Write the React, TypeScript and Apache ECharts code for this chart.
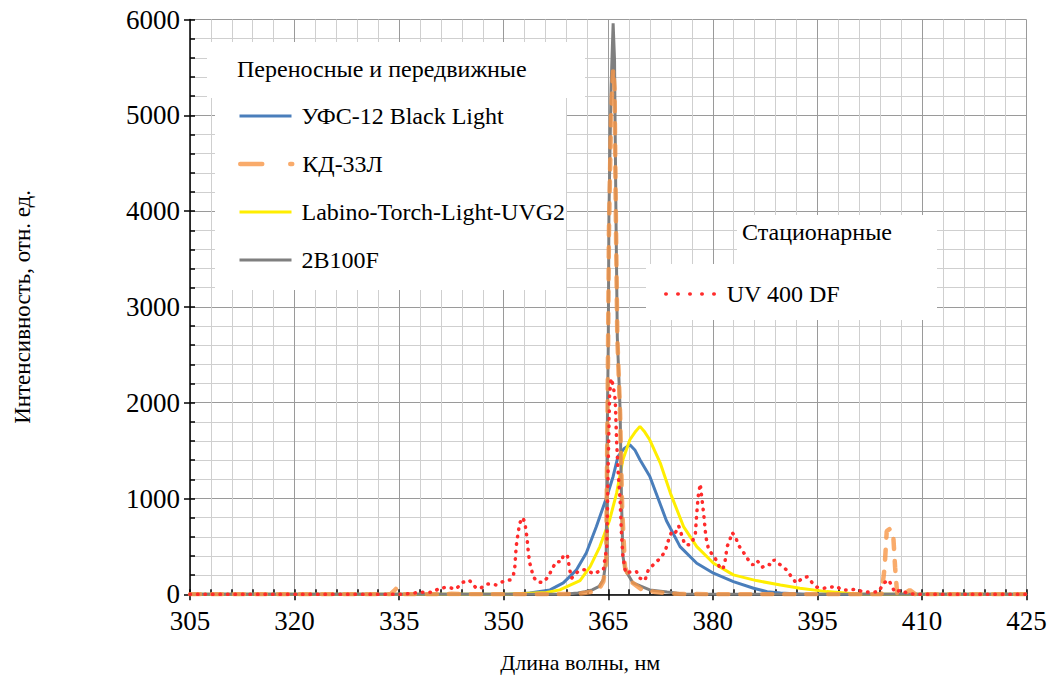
import React, { useEffect, useRef } from "react";
import * as echarts from "echarts";

// ---- Data (wavelength, nm / intensity, rel. units) ----
const seriesNames = ["УФС-12 Black Light", "КД-33Л", "Labino-Torch-Light-UVG2", "2B100F", "UV 400 DF"];

const ufsWl = [305, 330.4, 345.6, 350.6, 353.75, 356.65, 358.55, 360.45, 361.85, 363.3, 364.8, 365.7, 366.4, 367.3, 368.1, 368.85, 369.55, 370.95, 372.45, 373.35, 375.3, 377.7, 380.1, 382.95, 385.85, 387.8, 389.7, 392.95, 401, 425];
const ufsVal = [0, 0, 0, 0, 14, 46, 119, 255, 432, 707, 1021, 1230, 1439, 1523, 1561, 1503, 1404, 1233, 943, 768, 498, 324, 220, 133, 63, 28, 13, 0, 0, 0];

const kdWl = [305, 333.75, 334.25, 334.65, 335.05, 335.55, 340.5, 342.5, 344.5, 350.6, 355.65, 360.65, 362.7, 363.7, 364.3, 364.7, 364.9, 365.1, 365.4, 365.7, 365.9, 366.1, 366.3, 366.7, 367.0, 367.4, 368.25, 369.75, 371.75, 374.8, 380.85, 401, 404.2, 404.65, 404.95, 405.35, 405.85, 406.15, 406.45, 407.35, 408.25, 409.05, 425];
const kdVal = [0, 0, 35, 65, 35, 0, 0, 5, 0, 0, 0, 5, 25, 55, 135, 335, 1883, 3783, 4983, 5480, 5283, 3883, 2683, 1883, 883, 283, 133, 53, 23, 5, 0, 0, 0, 283, 660, 680, 660, 283, 0, 0, 45, 0, 0];

const labinoWl = [305, 340.5, 350.6, 356.15, 358.05, 359.45, 360.95, 362.4, 363.8, 365.2, 366.2, 367.1, 368.1, 368.95, 369.55, 370.15, 370.95, 372.45, 373.9, 375.8, 377.7, 380.1, 382.95, 386.25, 389.7, 392.5, 396.35, 399, 401, 404, 425];
const labinoVal = [0, 0, 0, 18, 46, 93, 143, 289, 498, 777, 1056, 1404, 1613, 1703, 1753, 1703, 1613, 1373, 1059, 707, 498, 324, 203, 143, 98, 63, 28, 13, 0, 0, 0];

const b2Wl = [305, 335.45, 340.5, 350.6, 355.65, 358.65, 360.65, 361.65, 362.7, 363.7, 364.3, 364.7, 364.9, 365.0, 365.1, 365.4, 365.7, 365.9, 366.1, 366.3, 366.7, 366.9, 367.1, 367.4, 367.7, 368.55, 370.95, 373.45, 375.8, 380.85, 385.85, 425];
const b2Val = [0, 0, 0, 0, 0, 0, 13, 28, 46, 83, 153, 363, 1983, 2583, 3983, 5283, 5960, 5583, 4017, 2683, 1933, 983, 403, 263, 223, 119, 46, 23, 3, 0, 0, 0];

const uvWl = [305, 310.3, 315.3, 320.35, 325.4, 330.4, 333.45, 335.45, 338.0, 339.8, 340.8, 341.8, 343.2, 344.0, 345.05, 345.95, 346.55, 347.6, 348.9, 349.9, 350.9, 351.4, 351.6, 351.8, 352.1, 352.3, 352.75, 353.05, 353.35, 353.55, 353.75, 354.25, 354.75, 355.55, 356.45, 356.85, 357.55, 358.35, 358.55, 359.15, 359.45, 359.75, 360.65, 361.35, 361.85, 362.9, 363.6, 364.3, 364.5, 364.8, 365.0, 365.2, 365.4, 365.7, 366.0, 366.2, 366.4, 366.7, 366.9, 367.1, 367.5, 368.3, 369.05, 369.55, 370.25, 370.75, 371.45, 372.45, 373.15, 373.65, 374.1, 374.6, 375.1, 375.6, 376.0, 376.5, 377.0, 377.5, 377.7, 377.9, 378.2, 378.4, 378.7, 379.0, 379.4, 380.3, 381.05, 381.45, 381.75, 382.05, 382.45, 382.75, 383.25, 383.65, 384.15, 384.65, 385.25, 385.75, 386.35, 387.1, 387.8, 388.4, 388.8, 389.4, 390.0, 390.7, 391.3, 392.0, 392.85, 393.55, 394.25, 394.95, 395.85, 396.85, 397.75, 398.5, 399.5, 400.6, 401.4, 402.6, 403.8, 404.5, 405.25, 405.75, 406.15, 406.95, 407.85, 409.05, 411, 415, 420, 425];
const uvVal = [0, 0, 0, 0, 0, 0, 0, 0, 21, 21, 63, 73, 56, 122, 148, 73, 58, 108, 98, 133, 150, 202, 289, 503, 655, 743, 801, 743, 586, 429, 324, 185, 133, 122, 185, 255, 341, 341, 411, 401, 262, 168, 237, 255, 255, 213, 237, 255, 359, 498, 1383, 2083, 2253, 2183, 2033, 1603, 1300, 983, 623, 394, 220, 237, 237, 168, 143, 255, 307, 377, 446, 568, 655, 638, 714, 603, 516, 516, 533, 638, 847, 1021, 1153, 1021, 833, 603, 464, 383, 272, 262, 341, 498, 568, 645, 603, 516, 464, 411, 341, 307, 352, 283, 314, 307, 359, 324, 289, 248, 178, 116, 168, 183, 122, 74, 63, 74, 83, 46, 46, 53, 28, 21, 28, 116, 150, 74, 18, 46, 11, 0, 0, 0, 0, 0];

const xMin = 305, xMax = 425, xStep = 15;
const yMin = 0, yMax = 6000, yStep = 1000;

const legendTitle1 = "Переносные и передвижные";
const legendTitle2 = "Стационарные";
const xTitle = "Длина волны, нм";
const yTitle = "Интенсивность, отн. ед.";

const zip = (a: number[], b: number[]) => a.map((v, i) => [v, b[i]]);

const FONT = "'Liberation Serif', 'Times New Roman', serif";
const TICK_FS = 27;
const LEG_FS = 24;

const COLORS = ["#4A7EBB", "#F79646", "#FFEE00", "#7F7F7F", "#FF2B2B"];

export default function App() {
  const ref = useRef<HTMLDivElement>(null);
  useEffect(() => {
    if (!ref.current) return;
    const chart = echarts.init(ref.current, null, { renderer: "svg" });
    const tickText = { fontFamily: FONT, fontSize: TICK_FS, color: "#000" };
    const titleText = { fontFamily: FONT, fontSize: 22, color: "#000" };
    const legText = { fontFamily: FONT, fontSize: LEG_FS, color: "#000" };
    const baseX = { type: "value", min: xMin, max: xMax, interval: xStep, position: "bottom" };
    const baseY = { type: "value", min: yMin, max: yMax, interval: yStep, position: "left" };
    const mkLegend = (name: string, left: number, top: number, width: number, lineType: any, textPad: number) => ({
      orient: "vertical", left, top, padding: 0,
      itemWidth: width, itemHeight: 14,
      data: [name],
      itemStyle: { opacity: 0 },
      lineStyle: lineType ? { width: "inherit", type: lineType } : { width: "inherit" },
      textStyle: { ...legText, lineHeight: 24, padding: [0, 0, 0, textPad] },
      selectedMode: false, z: 10,
    });
    const option: any = {
      animation: false,
      backgroundColor: "#fff",
      grid: { left: 190, top: 19.5, right: 22.5, bottom: 82.7, containLabel: false, outerBoundsMode: "none" },
      xAxis: [
        {
          ...baseX,
          name: xTitle, nameLocation: "middle", nameGap: 57,
          nameTextStyle: { ...titleText, padding: [0, 56, 0, 0] },
          axisLine: { show: true, onZero: false, lineStyle: { color: "#000", width: 1.5 } },
          axisTick: { show: true, inside: true, length: 5, lineStyle: { color: "#000", width: 1.5 } },
          minorTick: { show: true, splitNumber: 5, length: 5, lineStyle: { color: "#000", width: 1.5 } },
          splitLine: { show: true, lineStyle: { color: "#9a9a9a", width: 1 } },
          minorSplitLine: { show: true, lineStyle: { color: "#cfcfcf", width: 1 } },
          axisLabel: { ...tickText, margin: 13, formatter: (v: number) => String(v) },
        },
        {
          ...baseX,
          axisLine: { show: false },
          axisTick: { show: true, inside: false, length: 6, lineStyle: { color: "#000", width: 1.5 } },
          axisLabel: { show: false },
          splitLine: { show: false },
        },
      ],
      yAxis: [
        {
          ...baseY,
          name: yTitle, nameLocation: "middle", nameGap: 156,
          nameTextStyle: { ...titleText, fontSize: 23 },
          axisLine: { show: true, onZero: false, lineStyle: { color: "#000", width: 1.5 } },
          axisTick: { show: true, inside: true, length: 5, lineStyle: { color: "#000", width: 1.5 } },
          minorTick: { show: true, splitNumber: 5, length: 5, lineStyle: { color: "#000", width: 1.5 } },
          splitLine: { show: true, lineStyle: { color: "#9a9a9a", width: 1 } },
          minorSplitLine: { show: true, lineStyle: { color: "#cfcfcf", width: 1 } },
          axisLabel: { ...tickText, margin: 10, formatter: (v: number) => String(v) },
        },
        {
          ...baseY,
          axisLine: { show: false },
          axisTick: { show: true, inside: false, length: 6, lineStyle: { color: "#000", width: 1.5 } },
          axisLabel: { show: false },
          splitLine: { show: false },
        },
      ],
      legend: [
        mkLegend(seriesNames[0], 238, 104, 52, null, 5),
        mkLegend(seriesNames[1], 238, 152, 52, [22, 28], 5),
        mkLegend(seriesNames[2], 238, 200, 52, null, 5),
        mkLegend(seriesNames[3], 238, 248, 52, null, 5),
        mkLegend(seriesNames[4], 664, 282, 50, [0.5, 11.5], 6),
      ],
      graphic: {
        elements: [
          { type: "rect", z: 1, shape: { x: 207, y: 42, width: 378, height: 56 }, style: { fill: "#fff" } },
          { type: "rect", z: 1, shape: { x: 215, y: 97, width: 351, height: 193 }, style: { fill: "#fff" } },
          { type: "rect", z: 1, shape: { x: 737, y: 215, width: 200, height: 50 }, style: { fill: "#fff" } },
          { type: "rect", z: 1, shape: { x: 646, y: 264, width: 291, height: 56 }, style: { fill: "#fff" } },
          { type: "text", z: 5, x: 237, y: 69, style: { text: legendTitle1, font: `${LEG_FS}px ${FONT}`, fill: "#000", verticalAlign: "middle" } },
          { type: "text", z: 5, x: 742, y: 232, style: { text: legendTitle2, font: `${LEG_FS}px ${FONT}`, fill: "#000", verticalAlign: "middle" } },
        ],
      },
      series: [
        {
          name: seriesNames[0], type: "line", data: zip(ufsWl, ufsVal), showSymbol: false, symbol: "none", z: 2,
          lineStyle: { color: COLORS[0], width: 3 }, itemStyle: { color: COLORS[0] },
        },
        {
          name: seriesNames[2], type: "line", data: zip(labinoWl, labinoVal), showSymbol: false, symbol: "none", z: 2,
          lineStyle: { color: COLORS[2], width: 3 }, itemStyle: { color: COLORS[2] },
        },
        {
          name: seriesNames[3], type: "line", data: zip(b2Wl, b2Val), showSymbol: false, symbol: "none", z: 2,
          lineStyle: { color: COLORS[3], width: 3 }, itemStyle: { color: COLORS[3] },
        },
        {
          name: seriesNames[1], type: "line", data: zip(kdWl, kdVal), showSymbol: false, symbol: "none", z: 3,
          lineStyle: { color: COLORS[1], width: 4.5, type: [10, 12], cap: "round", opacity: 0.8 },
          itemStyle: { color: COLORS[1] },
        },
        {
          name: seriesNames[4], type: "line", data: zip(uvWl, uvVal), showSymbol: false, symbol: "none", z: 4,
          lineStyle: { color: COLORS[4], width: 3.5, type: [0.5, 7], cap: "round" },
          itemStyle: { color: COLORS[4] },
        },
      ],
    };
    chart.setOption(option);
    return () => chart.dispose();
  }, []);
  return <div ref={ref} style={{ width: 1049, height: 677, position: "absolute", left: 0, top: 0 }} />;
}
